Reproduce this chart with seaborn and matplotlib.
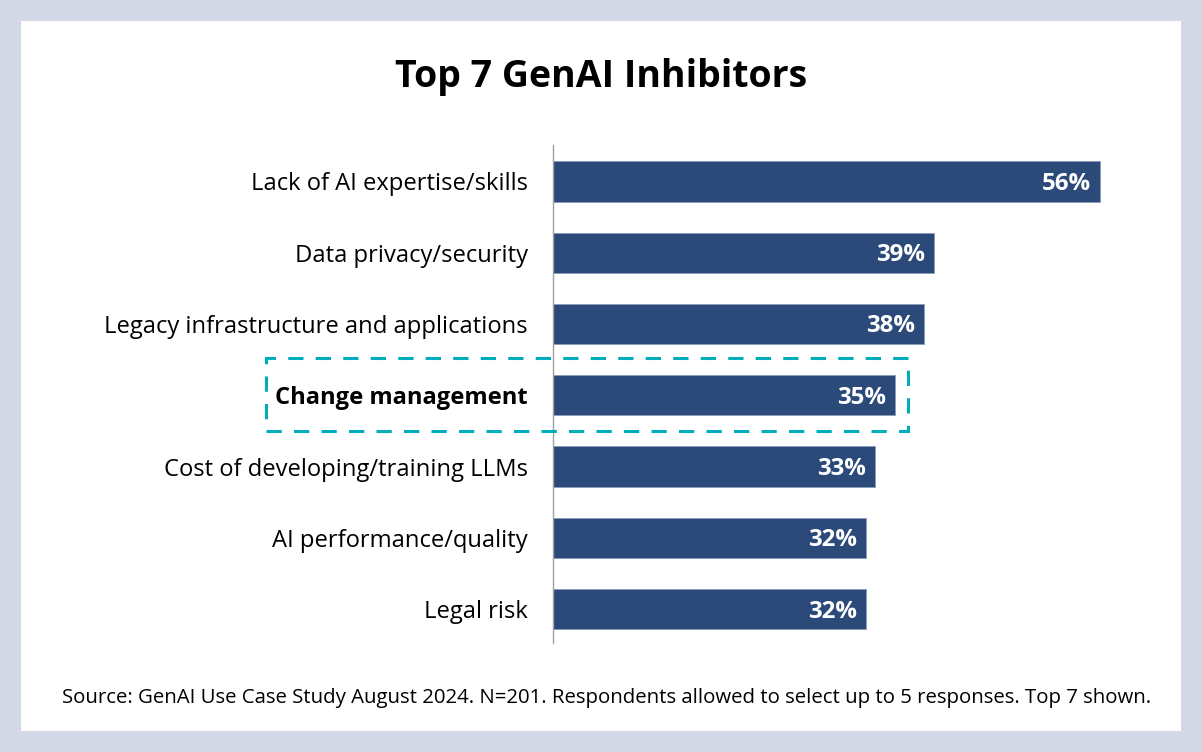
import matplotlib
matplotlib.use("Agg")
import matplotlib.pyplot as plt
import seaborn as sns
import pandas as pd
from matplotlib.patches import Rectangle

categories = [
    "Lack of AI expertise/skills",
    "Data privacy/security",
    "Legacy infrastructure and applications",
    "Change management",
    "Cost of developing/training LLMs",
    "AI performance/quality",
    "Legal risk",
]
values = [56, 39, 38, 35, 33, 32, 32]
highlight = "Change management"
title = "Top 7 GenAI Inhibitors"
source = "Source: GenAI Use Case Study August 2024. N=201. Respondents allowed to select up to 5 responses. Top 7 shown."

BAR = "#2b4a7a"
BORDER = "#d3d9e6"
TEAL = "#00aebb"

sns.set_theme(style="white")
plt.rcParams["font.family"] = ["Open Sans", "DejaVu Sans"]

W, H = 1202, 752
fig = plt.figure(figsize=(W / 100, H / 100), dpi=100)
fig.patch.set_facecolor(BORDER)
# white inner panel
fig.patches.append(Rectangle((21 / W, 1 - 731 / H), (1181 - 21) / W, (731 - 21) / H,
                             transform=fig.transFigure, facecolor="white",
                             edgecolor="none", zorder=-10))

px_per_unit = (1100 - 553) / 56.0
ax_left, ax_right = 553, 1160
ax_top, ax_bot = 145, 643
ax = fig.add_axes([ax_left / W, 1 - ax_bot / H, (ax_right - ax_left) / W, (ax_bot - ax_top) / H])
ax.set_facecolor("none")
ax.set_zorder(1)

df = pd.DataFrame({"cat": categories, "val": values})
sns.barplot(data=df, x="val", y="cat", color=BAR, saturation=1, width=0.565,
            edgecolor="#8a9bb8", linewidth=0.6, ax=ax)

ax.set_xlim(0, (ax_right - ax_left) / px_per_unit)
pitch = (609 - 181.5) / 6
ax.set_ylim(6 + (ax_bot - 609) / pitch, -(181.5 - ax_top) / pitch)

for s in ["top", "right", "bottom"]:
    ax.spines[s].set_visible(False)
ax.spines["left"].set_color("#a0a0a0")
ax.spines["left"].set_linewidth(1.0)
ax.set_xticks([])
ax.set_xlabel("")
ax.set_ylabel("")
ax.tick_params(axis="y", length=0, pad=18)
for lbl in ax.get_yticklabels():
    lbl.set_fontsize(17.1)
    lbl.set_color("black")
    if lbl.get_text() == highlight:
        lbl.set_fontweight("bold")

for i, v in enumerate(values):
    ax.text(v - 9 / px_per_unit, i + 2.5 / pitch, f"{v}%", ha="right", va="center",
            color="white", fontsize=17.3, fontweight="bold")

fig.text(601 / W, 1 - 77 / H, title, ha="center", va="center",
         fontsize=27, fontweight="bold", color="black")
fig.text(607 / W, 1 - 698 / H, source, ha="center", va="center",
         fontsize=14.7, color="black")

# dashed highlight box
fig.patches.append(Rectangle((266 / W, 1 - 431 / H), (908 - 266) / W, (431 - 358) / H,
                             transform=fig.transFigure, facecolor="none",
                             edgecolor=TEAL, linewidth=2.2, linestyle=(0, (5, 4)),
                             zorder=5))

fig.savefig("out.png", dpi=100, facecolor=fig.get_facecolor())
